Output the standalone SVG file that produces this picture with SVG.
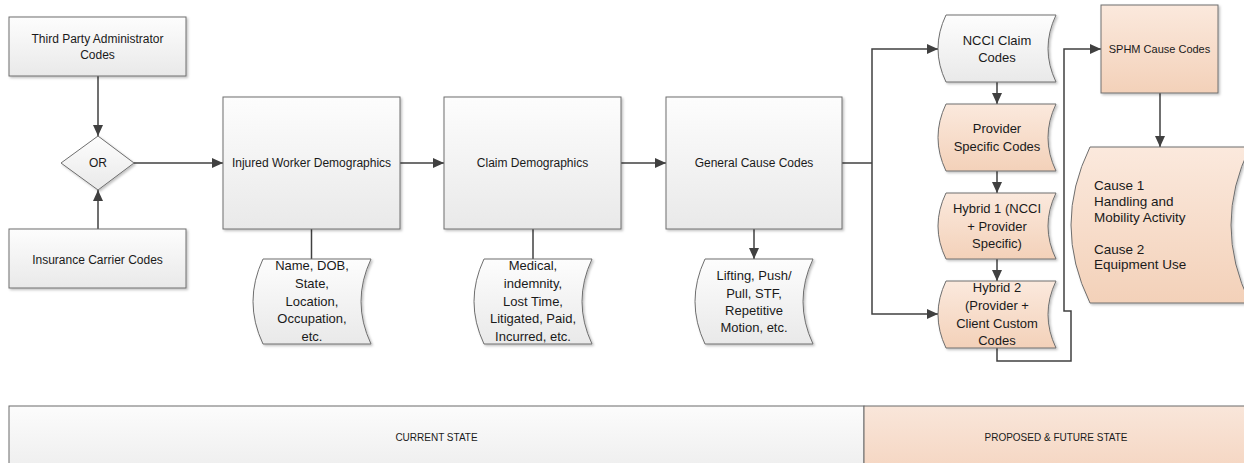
<svg xmlns="http://www.w3.org/2000/svg" width="1244" height="463" viewBox="0 0 1244 463">
<defs>
<linearGradient id="gGrey" x1="0" y1="0" x2="0" y2="1"><stop offset="0" stop-color="#fdfdfd"/><stop offset="1" stop-color="#e9e9e9"/></linearGradient>
<linearGradient id="gPeach" x1="0" y1="0" x2="0" y2="1"><stop offset="0" stop-color="#fbe9dd"/><stop offset="1" stop-color="#f3d1b9"/></linearGradient>
<linearGradient id="gBandGrey" x1="0" y1="0" x2="0" y2="1"><stop offset="0" stop-color="#fcfcfc"/><stop offset="1" stop-color="#eeeeee"/></linearGradient>
<linearGradient id="gBandPeach" x1="0" y1="0" x2="0" y2="1"><stop offset="0" stop-color="#f9e6da"/><stop offset="1" stop-color="#f5d6c2"/></linearGradient>
<filter id="sh" x="-10%" y="-10%" width="130%" height="130%"><feDropShadow dx="1.5" dy="1.5" stdDeviation="0.8" flood-color="#000" flood-opacity="0.25"/></filter>
<marker id="arr" markerUnits="userSpaceOnUse" markerWidth="11" markerHeight="10" viewBox="0 0 11 10" refX="11" refY="5" orient="auto"><path d="M0,0 L11,5 L0,10 Z" fill="#404040"/></marker>
</defs>
<style>
.box{stroke:#6e6e6e;stroke-width:1;filter:url(#sh)}
.grey{fill:url(#gGrey)}
.peach{fill:url(#gPeach)}
.c{fill:none;stroke:#404040;stroke-width:1.5}
.a{marker-end:url(#arr)}
text{font-family:"Liberation Sans",Arial,sans-serif;fill:#1a1a1a;dominant-baseline:central}
.s{font-size:12px;text-anchor:middle}
.m{font-size:13px;text-anchor:middle}
.l{font-size:13.5px}
.b{font-size:10px;text-anchor:middle}
</style>

<g id="connectors">
<path class="c a" d="M98 76 V136"/>
<path class="c a" d="M98 229 V190"/>
<path class="c a" d="M134 163 H223"/>
<path class="c a" d="M400 163 H444"/>
<path class="c a" d="M621 163 H666"/>
<path class="c" d="M842 163 H872"/>
<path class="c a" d="M872 163 V49 H938"/>
<path class="c a" d="M872 163 V314 H938"/>
<path class="c" d="M311.5 229 V259"/>
<path class="c" d="M533 229 V259"/>
<path class="c a" d="M754 229 V259"/>
<path class="c a" d="M997 82 V104"/>
<path class="c a" d="M997 171 V193"/>
<path class="c a" d="M997 259 V281"/>
<path class="c a" d="M997 348 V361 H1071 V311 H1064 V49 H1101"/>
<path class="c a" d="M1160 93 V147"/>
</g>

<g id="tpa"><rect class="box grey" x="9" y="17" width="177" height="59"/><text class="s" x="97.5" y="39">Third Party Administrator</text><text class="s" x="97.5" y="55">Codes</text></g>
<g id="or"><path class="box grey" d="M98 136 L134 163 L98 190 L61 163 Z"/><text class="s" x="98" y="163">OR</text></g>
<g id="carrier"><rect class="box grey" x="9" y="229" width="177" height="59"/><text class="s" x="97.5" y="260">Insurance Carrier Codes</text></g>
<g id="injured"><rect class="box grey" x="223" y="97" width="177" height="132"/><text class="s" x="311.5" y="163">Injured Worker Demographics</text></g>
<g id="claim"><rect class="box grey" x="444" y="97" width="177" height="132"/><text class="s" x="532.5" y="163">Claim Demographics</text></g>
<g id="general"><rect class="box grey" x="666" y="97" width="176" height="132"/><text class="s" x="754" y="163">General Cause Codes</text></g>

<g id="name-doc"><path class="box grey" d="M263 259 H371 Q351 301.5 371 344 H263 Q243 301.5 263 259 Z"/>
<text class="m" x="312" y="265">Name, DOB,</text><text class="m" x="312" y="283.5">State,</text><text class="m" x="312" y="301">Location,</text><text class="m" x="312" y="318.5">Occupation,</text><text class="m" x="312" y="336">etc.</text></g>
<g id="claim-doc"><path class="box grey" d="M484 259 H592 Q572 301.5 592 344 H484 Q464 301.5 484 259 Z"/>
<text class="m" x="533" y="265">Medical,</text><text class="m" x="533" y="283.5">indemnity,</text><text class="m" x="533" y="301">Lost Time,</text><text class="m" x="533" y="318.5">Litigated, Paid,</text><text class="m" x="533" y="336">Incurred, etc.</text></g>
<g id="general-doc"><path class="box grey" d="M705 259 H813 Q793 301.5 813 344 H705 Q685 301.5 705 259 Z"/>
<text class="m" x="754" y="275">Lifting, Push/</text><text class="m" x="754" y="293">Pull, STF,</text><text class="m" x="754" y="310">Repetitive</text><text class="m" x="754" y="327">Motion, etc.</text></g>

<g id="ncci"><path class="box grey" d="M946 15 H1056 Q1040 48.5 1056 82 H946 Q930 48.5 946 15 Z"/>
<text class="m" x="997" y="40.5">NCCI Claim</text><text class="m" x="997" y="57.5">Codes</text></g>
<g id="provider"><path class="box peach" d="M946 104 H1056 Q1040 137.5 1056 171 H946 Q930 137.5 946 104 Z"/>
<text class="m" x="997" y="128">Provider</text><text class="m" x="997" y="146">Specific Codes</text></g>
<g id="hybrid1"><path class="box peach" d="M946 193 H1056 Q1040 226 1056 259 H946 Q930 226 946 193 Z"/>
<text class="m" x="997" y="208">Hybrid 1 (NCCI</text><text class="m" x="997" y="226">+ Provider</text><text class="m" x="997" y="243">Specific)</text></g>
<g id="hybrid2"><path class="box peach" d="M946 281 H1056 Q1040 314.5 1056 348 H946 Q930 314.5 946 281 Z"/>
<text class="m" x="997" y="287">Hybrid 2</text><text class="m" x="997" y="305">(Provider +</text><text class="m" x="997" y="323">Client Custom</text><text class="m" x="997" y="340">Codes</text></g>

<g id="sphm"><rect class="box peach" x="1101" y="5" width="117" height="88"/><text class="s" x="1159.5" y="49" style="font-size:11px">SPHM Cause Codes</text></g>
<g id="cause"><path class="box peach" d="M1090 147 H1250 Q1212 225 1250 303 H1090 Q1052 225 1090 147 Z"/>
<text class="l" x="1094" y="185">Cause 1</text><text class="l" x="1094" y="201">Handling and</text><text class="l" x="1094" y="217">Mobility Activity</text><text class="l" x="1094" y="249">Cause 2</text><text class="l" x="1094" y="264">Equipment Use</text></g>

<g id="current-state"><rect x="9" y="406" width="855" height="64" fill="url(#gBandGrey)" stroke="#6a6a6a" stroke-width="1"/><text class="b" x="436.5" y="437">CURRENT STATE</text></g>
<g id="future-state"><rect x="864" y="406" width="386" height="64" fill="url(#gBandPeach)" stroke="#6a6a6a" stroke-width="1"/><text class="b" x="1056" y="437">PROPOSED &amp; FUTURE STATE</text></g>
</svg>
